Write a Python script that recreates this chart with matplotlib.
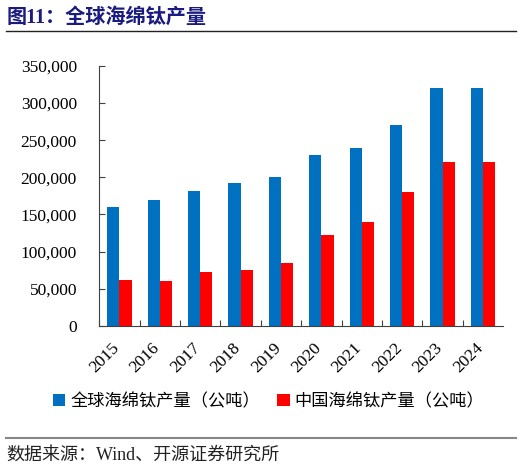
import matplotlib.pyplot as plt
import numpy as np
from matplotlib.lines import Line2D

years = ["2015", "2016", "2017", "2018", "2019", "2020", "2021", "2022", "2023", "2024"]
global_out = [160000, 170000, 181000, 192000, 200000, 230000, 240000, 270000, 320000, 320000]
china_out = [62000, 60000, 72000, 75000, 85000, 123000, 140000, 180000, 220000, 220000]

blue = "#0070C0"
red = "#FF0000"
fam = ["Liberation Serif", "Noto Sans CJK SC"]
plt.rcParams["font.family"] = fam

fig = plt.figure(figsize=(5.22, 4.67), dpi=100)
ax = fig.add_axes([0.19, 0.302, 0.774, 0.557])

x = np.arange(len(years))
w = 0.3
ax.bar(x - w / 2, global_out, w, color=blue, label="全球海绵钛产量（公吨）")
ax.bar(x + w / 2, china_out, w, color=red, label="中国海绵钛产量（公吨）")

ax.set_xlim(-0.5, len(years) - 0.5)
ax.set_ylim(0, 350000)
ax.set_yticks(np.arange(0, 350001, 50000))
ax.set_yticklabels([f"{v:,}" for v in range(0, 350001, 50000)], fontsize=12.5)
ax.set_xticks(x - 0.5, minor=False)
# labels sit a little right of the group centre, as in the source
ax.set_xticks(x + 0.08, minor=True)
ax.set_xticklabels([])
ax.set_xticklabels(years, minor=True, rotation=45, fontsize=12.5, ha="right")
ax.tick_params(axis="x", which="minor", length=0, pad=10)
ax.tick_params(axis="x", which="major", direction="in", length=4, color="#404040")
ax.tick_params(axis="y", direction="in", length=4, color="#404040", pad=16)
for s in ["top", "right"]:
    ax.spines[s].set_visible(False)
for s in ["left", "bottom"]:
    ax.spines[s].set_color("#404040")

ax.legend(loc="upper center", bbox_to_anchor=(0.42, -0.2), ncol=2, frameon=False,
          handlelength=0.7, handleheight=0.7, handletextpad=0.3, columnspacing=1.0,
          prop={"family": fam, "size": 12.4})

fig.text(0.013, 0.962, "图11：全球海绵钛产量", fontsize=14.5, fontweight="bold",
         color="#1A1A80", va="center", family=fam)
fig.add_artist(Line2D([0.011, 0.989], [0.934, 0.934], color="#222222", lw=1.0))
fig.add_artist(Line2D([0.011, 0.989], [0.062, 0.062], color="#888888", lw=1.5))
fig.text(0.013, 0.026, "数据来源：Wind、开源证券研究所", fontsize=13, color="#222222",
         va="center", family=fam)

fig.savefig("out.png", dpi=100)
